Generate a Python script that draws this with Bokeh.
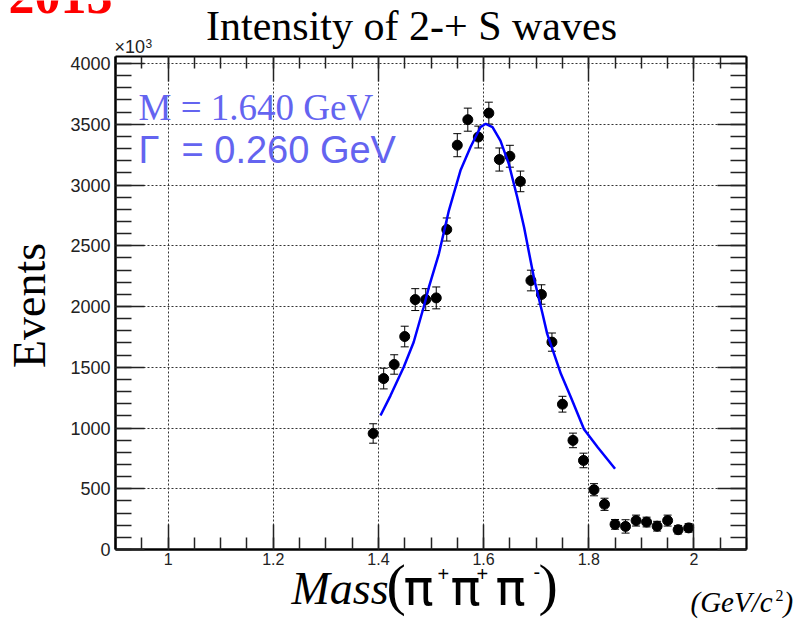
import math
from bokeh.plotting import figure
from bokeh.models import (Label, Whisker, TeeHead, ColumnDataSource, LinearAxis,
                          FixedTicker, Range1d, Grid)
from bokeh.embed import file_html
from bokeh.resources import INLINE

# ---------------- data ----------------
mass = [1.39, 1.41, 1.43, 1.45, 1.47, 1.49, 1.51, 1.53, 1.55, 1.57, 1.59,
        1.61, 1.63, 1.65, 1.67, 1.69, 1.71, 1.73, 1.75, 1.77, 1.79, 1.81,
        1.83, 1.85, 1.87, 1.89, 1.91, 1.93, 1.95, 1.97, 1.99]
events = [955, 1407, 1523, 1753, 2057, 2057, 2071, 2634, 3328, 3538, 3395,
          3592, 3210, 3237, 3030, 2214, 2099, 1707, 1196, 898, 733, 492,
          372, 207, 190, 238, 226, 192, 238, 163, 178]
errors = [80, 85, 80, 85, 90, 90, 90, 95, 95, 95, 90,
          90, 95, 90, 85, 85, 80, 75, 65, 60, 60, 50,
          50, 40, 55, 45, 40, 40, 45, 35, 35]

fit_mass = [1.404, 1.423, 1.448, 1.467, 1.486, 1.496, 1.515, 1.534, 1.556,
            1.575, 1.594, 1.604, 1.617, 1.632, 1.648, 1.664, 1.677, 1.696,
            1.712, 1.721, 1.747, 1.766, 1.791, 1.817, 1.850]
fit_events = [1103, 1267, 1500, 1706, 1994, 2159, 2434, 2790, 3119,
              3311, 3476, 3504, 3476, 3366, 3174, 2900, 2653, 2230,
              1942, 1775, 1446, 1254, 990, 842, 664]

x_major = [1.0, 1.2, 1.4, 1.6, 1.8, 2.0]
x_labels = ["1", "1.2", "1.4", "1.6", "1.8", "2"]
y_major = [0, 500, 1000, 1500, 2000, 2500, 3000, 3500, 4000]

title_text = "Intensity of 2-+ S waves"
year_text = "2013"
mass_text = "M = 1.640 GeV"
width_text = "= 0.260 GeV"

# ---------------- layout ----------------
W, H = 800, 620
X0, X1 = 0.9, 2.1
Y0, Y1 = 0, 4058
FL, FR, FT, FB = 115, 746, 56, 549   # axes box in picture pixels


def dx(px):
    return X0 + (px - FL) * (X1 - X0) / (FR - FL)


def dy(py):
    return Y0 + (FB - py) * (Y1 - Y0) / (FB - FT)


x_minor = [round(0.9 + 0.05 * i, 2) for i in range(25)]
y_minor = [100 * i for i in range(41)]

p = figure(width=W, height=H, x_range=Range1d(dx(0), dx(W)), y_range=Range1d(dy(H), dy(0)),
           output_backend="svg", toolbar_location=None,
           x_axis_location=None, y_axis_location=None,
           min_border=0, min_border_left=0, min_border_right=0,
           min_border_top=0, min_border_bottom=0)
p.background_fill_color = "white"
p.border_fill_color = "white"
p.outline_line_color = None
p.center = []   # drop default grids

xt = FixedTicker(ticks=x_major, minor_ticks=x_minor)
yt = FixedTicker(ticks=y_major, minor_ticks=y_minor)

# grids (dotted) confined to the axes box
p.add_layout(Grid(dimension=0, ticker=xt, bounds=(X0, X1), cross_bounds=(Y0, Y1),
                  grid_line_color="#333333", grid_line_dash="2 2", grid_line_width=1))
p.add_layout(Grid(dimension=1, ticker=yt, bounds=(Y0, Y1), cross_bounds=(X0, X1),
                  grid_line_color="#333333", grid_line_dash="2 2", grid_line_width=1))


def make_axis(ticker, loc, bounds, major_len, minor_len, show_labels, font_size, lw):
    ax = LinearAxis(ticker=ticker, fixed_location=loc, bounds=bounds)
    ax.axis_line_color = "black"
    ax.axis_line_width = lw
    ax.major_tick_in = major_len
    ax.major_tick_out = 0
    ax.minor_tick_in = minor_len
    ax.minor_tick_out = 0
    ax.major_tick_line_color = "#222222"
    ax.minor_tick_line_color = "#222222"
    ax.major_tick_line_width = 1.5
    ax.minor_tick_line_width = 1.5
    if show_labels:
        ax.major_label_text_font = "Liberation Sans"
        ax.major_label_text_font_size = font_size
        ax.major_label_text_color = "#222222"
    else:
        ax.major_label_text_font_size = "0px"
        ax.major_label_text_color = None
    return ax


xb = make_axis(xt, Y0, (X0, X1), 25, 12, True, "16px", 2.5)
xb.major_label_overrides = {v: s for v, s in zip(x_major, x_labels)}
xb.major_label_standoff = 3
p.add_layout(xb, "below")

yl = make_axis(yt, X0, (Y0, Y1), 29, 16, True, "18px", 2.5)
yl.major_label_standoff = 5
p.add_layout(yl, "left")

p.add_layout(make_axis(xt, Y1, (X0, X1), 25, 12, False, "0px", 2), "above")
p.add_layout(make_axis(yt, X1, (Y0, Y1), 29, 16, False, "0px", 2), "right")

# ---------------- glyphs ----------------
src = ColumnDataSource(dict(x=mass, y=events,
                            upper=[v + e for v, e in zip(events, errors)],
                            lower=[v - e for v, e in zip(events, errors)]))
p.add_layout(Whisker(source=src, base="x", upper="upper", lower="lower",
                     line_color="black", line_width=1,
                     upper_head=TeeHead(size=8, line_color="black", line_width=1),
                     lower_head=TeeHead(size=8, line_color="black", line_width=1)))
p.scatter("x", "y", source=src, size=10, color="black")
p.line(fit_mass, fit_events, line_color="#0000ff", line_width=2.5)

# ---------------- texts ----------------
SERIF = "Liberation Serif"
SANS = "Liberation Sans"


def lab(px, py, text, font, size, color="black", style="normal", align="left", angle=0.0):
    # px, py: wanted baseline anchor in picture pixels
    off = 0.34 * size
    if angle == 0.0:
        py -= off
    else:
        px -= off
    p.add_layout(Label(x=dx(px), y=dy(py), text=text, text_font=font,
                       text_font_size=f"{size}px", text_color=color, text_font_style=style,
                       text_align=align, text_baseline="alphabetic", angle=angle))


lab(8, 13, year_text, SERIF, 52, color="#ff0000", style="bold")
lab(411, 40, title_text, SERIF, 42, align="center")
lab(114, 53, "×10", SANS, 18, color="#222222")
lab(145, 47, "3", SANS, 12, color="#222222")
lab(45, 305, "Events", SERIF, 46, align="center", angle=math.pi / 2)

LEG = "#6464f0"
lab(138, 120, mass_text, SERIF, 37, color=LEG)
lab(138, 162, "Γ", SANS, 38, color=LEG)
lab(181, 162, width_text, SANS, 38, color=LEG)

# x axis title: Mass(π+π+π-)
PI_FONT = "DejaVu Sans"
lab(291, 604, "Mass", SERIF, 46, style="italic")
lab(386, 604, "(", SERIF, 58)
lab(403, 604, "π", PI_FONT, 50)
lab(437, 580, "+", SANS, 20)
lab(450, 604, "π", PI_FONT, 50)
lab(476, 580, "+", SANS, 20)
lab(495, 604, "π", PI_FONT, 50)
lab(533, 578, "-", SANS, 20)
lab(538, 604, ")", SERIF, 58)

# unit
lab(690, 611, "(GeV/c", SERIF, 29, style="italic")
lab(775, 600, "2", SERIF, 16)
lab(783, 611, ")", SERIF, 29, style="italic")

open("out.html", "w").write(file_html(p, INLINE))
